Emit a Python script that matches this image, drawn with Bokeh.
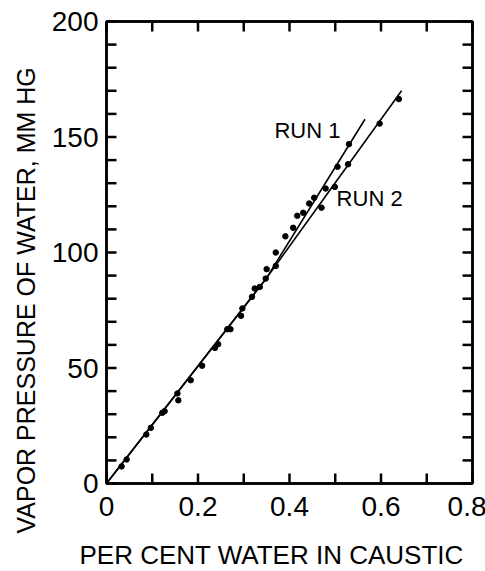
from bokeh.plotting import figure
from bokeh.models import Range1d, FixedTicker, LinearAxis, Title, Label
from bokeh.embed import file_html
from bokeh.resources import INLINE

# ---- data ----
water_pct = [0.033, 0.044, 0.087, 0.097, 0.122, 0.127, 0.155, 0.157, 0.184, 0.209,
             0.237, 0.244, 0.264, 0.271, 0.294, 0.297, 0.318, 0.324, 0.335, 0.348,
             0.350, 0.370, 0.370, 0.391, 0.408, 0.417, 0.430, 0.443, 0.454, 0.470,
             0.479, 0.499, 0.505, 0.530, 0.528, 0.597, 0.639]
vapor_mmhg = [7.4, 10.4, 21.2, 24.1, 30.6, 31.3, 39.0, 36.0, 44.7, 51.0,
              58.7, 60.3, 66.8, 66.8, 72.6, 75.8, 80.8, 84.4, 85.1, 88.7,
              92.8, 94.2, 100.0, 107.0, 110.7, 115.9, 117.2, 121.2, 123.7, 119.4,
              127.7, 128.4, 137.1, 146.9, 138.2, 155.8, 166.4]

run1_line_x = [0.0, 0.349, 0.565]
run1_line_y = [0.0, 88.7, 157.7]
run2_line_x = [0.0, 0.349, 0.645]
run2_line_y = [0.0, 88.7, 170.0]

x_major = [0.0, 0.2, 0.4, 0.6, 0.8]
x_major_labels = ["0", "0.2", "0.4", "0.6", "0.8"]
x_minor = [0.1, 0.3, 0.5, 0.7]
y_major = [0, 50, 100, 150, 200]
y_minor = [10, 20, 30, 40, 60, 70, 80, 90, 110, 120, 130, 140, 160, 170, 180, 190]

x_title = "PER CENT WATER IN CAUSTIC"
y_title = "VAPOR PRESSURE OF WATER, MM HG"

FONT = "Liberation Sans"
X0, X1 = 0.0, 0.8
Y0, Y1 = 0.0, 200.0
FW, FH = 366, 462
TICK_PX = 10
DX = (X1 - X0) / FW   # data units per pixel
DY = (Y1 - Y0) / FH

p = figure(frame_width=FW, frame_height=FH,
           x_range=Range1d(X0, X1), y_range=Range1d(Y0, Y1),
           output_backend="svg", toolbar_location=None,
           x_axis_location=None, y_axis_location=None,
           min_border_left=105, min_border_top=21, min_border_right=14, min_border_bottom=0)
p.xgrid.visible = False
p.ygrid.visible = False
p.outline_line_color = "black"
p.outline_line_width = 2.5
p.background_fill_color = "white"
p.border_fill_color = "white"

xticker = FixedTicker(ticks=x_major, minor_ticks=x_minor)
yticker = FixedTicker(ticks=y_major, minor_ticks=y_minor)


def style_axis(ax, show_labels):
    ax.axis_line_width = 2.5
    ax.axis_line_color = "black"
    ax.major_tick_in = 0
    ax.major_tick_out = 0
    ax.minor_tick_in = 0
    ax.minor_tick_out = 0
    if show_labels:
        ax.major_label_text_font = FONT
        ax.major_label_text_font_size = "28px"
        ax.major_label_text_color = "black"
    else:
        ax.major_label_text_font_size = "0px"
        ax.major_label_standoff = 0


bottom = LinearAxis(ticker=xticker,
                    major_label_overrides={v: s for v, s in zip(x_major, x_major_labels)})
style_axis(bottom, True)
bottom.major_label_standoff = 13
left = LinearAxis(ticker=yticker)
style_axis(left, True)
left.major_label_standoff = 8
top = LinearAxis(ticker=xticker)
style_axis(top, False)
right = LinearAxis(ticker=yticker)
style_axis(right, False)

p.add_layout(bottom, "below")
p.add_layout(left, "left")
p.add_layout(top, "above")
p.add_layout(right, "right")

p.add_layout(Title(text=x_title, align="left", offset=-27, text_font=FONT,
                   text_font_size="26px", text_font_style="normal", text_color="black",
                   standoff=38), "below")
p.add_layout(Title(text=y_title, align="left", offset=-50, text_font=FONT,
                   text_font_size="25px", text_font_style="normal", text_color="black",
                   standoff=18), "left")

# inward ticks on all four sides, positioned from the tick arrays
x_all = sorted(x_major + x_minor)
y_all = sorted(y_major + y_minor)
ty = TICK_PX * DY
tx = TICK_PX * DX
tick_kw = dict(fill_color="black", line_color=None, level="overlay")
p.rect(x=x_all, y=[Y0 + ty / 2] * len(x_all), width=2.5, height=ty,
       width_units="screen", **tick_kw)
p.rect(x=x_all, y=[Y1 - ty / 2] * len(x_all), width=2.5, height=ty,
       width_units="screen", **tick_kw)
p.rect(x=[X0 + tx / 2] * len(y_all), y=y_all, width=tx, height=2.5,
       height_units="screen", **tick_kw)
p.rect(x=[X1 - tx / 2] * len(y_all), y=y_all, width=tx, height=2.5,
       height_units="screen", **tick_kw)

p.line(run1_line_x, run1_line_y, line_color="black", line_width=1.6)
p.line(run2_line_x, run2_line_y, line_color="black", line_width=1.6)
p.scatter(water_pct, vapor_mmhg, size=5.5, fill_color="black", line_color="black")

p.add_layout(Label(x=0.367, y=153.0, text="RUN 1", text_font=FONT, text_baseline="alphabetic",
                   text_font_size="22px", text_color="black"))
p.add_layout(Label(x=0.503, y=123.5, text="RUN 2", text_font=FONT, text_baseline="alphabetic",
                   text_font_size="22px", text_color="black"))

open("out.html", "w").write(file_html(p, INLINE))
